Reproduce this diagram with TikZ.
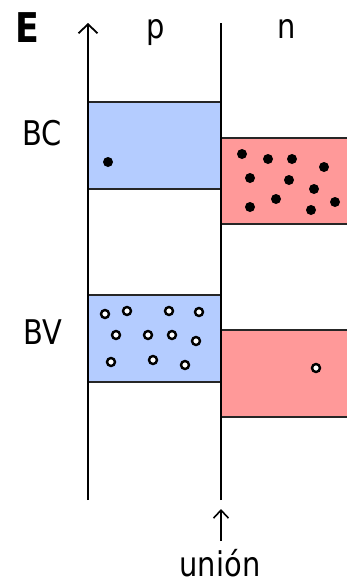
\documentclass[tikz,border=0pt]{standalone}
\usepackage{fontspec}
\setmainfont{DejaVu Sans}
\usetikzlibrary{arrows.meta}
\definecolor{bandblue}{RGB}{180,204,255}
\definecolor{bandred}{RGB}{255,153,153}
\begin{document}
\begin{tikzpicture}[x=1pt,y=-1pt,
  band/.style={draw=black!85, line width=2.4pt},
  elec/.style={circle, fill=black, inner sep=0pt, minimum size=10pt},
  hole/.style={circle, draw=black, fill=white, line width=2.4pt, inner sep=0pt, minimum size=8pt},
  lbl/.style={font=\fontsize{34}{40}\selectfont, inner sep=0pt, anchor=base},
  axis/.style={line width=2.4pt},
  tip/.style={-{Straight Barb[length=9pt,width=19pt,line width=1.8pt]}}]
\useasboundingbox (0,0) rectangle (347,584);
% bands
\draw[band, fill=bandblue] (88,102) rectangle (221,189);
\draw[band, fill=bandred] (221,138) rectangle (352,224);
\draw[band, fill=bandblue] (88,295) rectangle (221,382);
\draw[band, fill=bandred] (221,330) rectangle (352,417);
% axes
\coordinate (axb) at (88,500);
\coordinate (axt) at (88,23);
\coordinate (jb) at (221,500);
\coordinate (jt) at (221,23);
\draw[axis, tip] (axb) -- (axt);
\draw[axis] (jb) -- (jt);
\coordinate (ub) at (221,541);
\coordinate (ut) at (221,509);
\draw[line width=2pt, -{Straight Barb[length=8pt,width=15pt,line width=1.6pt]}] (ub) -- (ut);
% labels
\node[lbl, font=\fontsize{41}{48}\selectfont\bfseries] (E) at (27,42) {\scalebox{0.85}[1]{E}};
\node[lbl] (p) at (156,38) {\scalebox{0.85}[1]{p}};
\node[lbl] (n) at (287,38) {\scalebox{0.85}[1]{n}};
\node[lbl] (BC) at (42,145) {\scalebox{0.85}[1]{BC}};
\node[lbl] (BV) at (43,344) {\scalebox{0.85}[1]{BV}};
\node[lbl] (union) at (220,576) {\scalebox{0.85}[1]{unión}};
% electrons
\node[elec] (e0) at (108,162) {};
\foreach \x/\y [count=\i] in {242/154,268/159,292/159,324/167,250/178,289/180,314/189,250/207,276/199,311/210,335/202}
  \node[elec] (e\i) at (\x,\y) {};
% holes
\foreach \x/\y [count=\i] in {105/314,127/311,169/311,199/312,116/335,148/335,172/335,196/341,111/362,153/360,185/365}
  \node[hole] (h\i) at (\x,\y) {};
\node[hole] (h0) at (316,368) {};
\end{tikzpicture}
\end{document}
